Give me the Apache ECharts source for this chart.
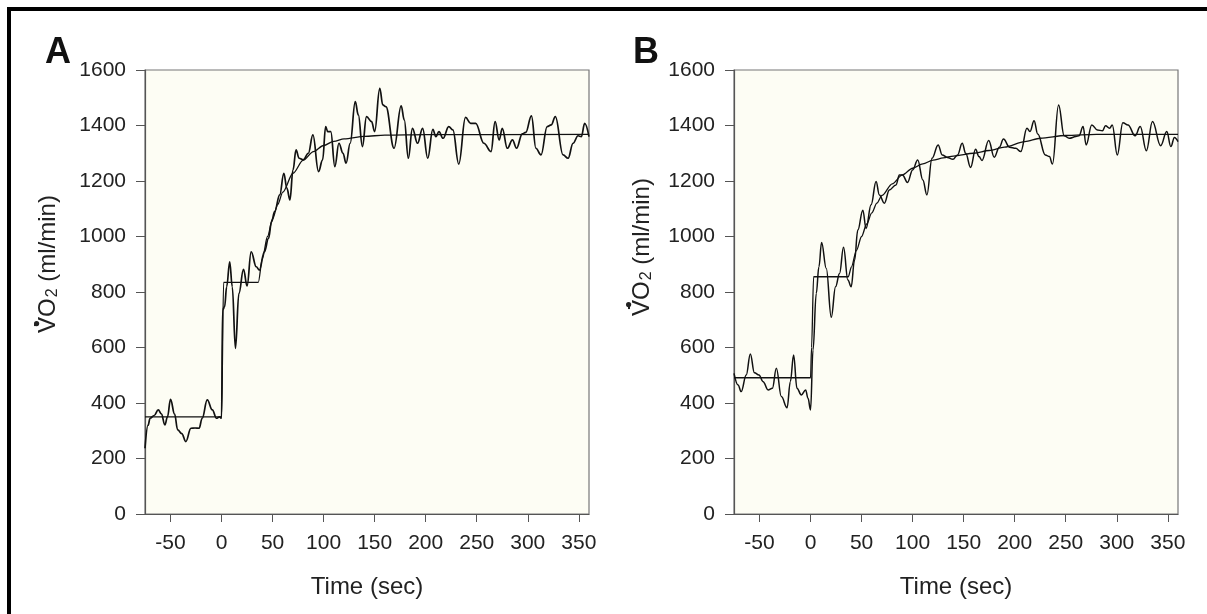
<!DOCTYPE html>
<html>
<head>
<meta charset="utf-8">
<script src="https://cdn.jsdelivr.net/npm/echarts@6/dist/echarts.min.js"></script>
<style>
  html, body { margin: 0; padding: 0; background: #fff; }
  #chart { width: 1207px; height: 614px; }
  #frame { position: absolute; left: 7px; top: 7px; width: 1210px; height: 620px;
           border-left: 4px solid #000; border-top: 4px solid #000; pointer-events: none; }
</style>
</head>
<body>
<div id="chart"></div>
<div id="frame"></div>
<script>
// Tick labels
const xTicks = [-50, 0, 50, 100, 150, 200, 250, 300, 350];

// Panel A: measured VO2 (time sec, ml/min)
const dataA = [[-75,237],[-72,320],[-70,345],[-66,355],[-62,375],[-59,361],[-55.5,321],[-53,350],[-50,413],[-46,360],[-43,303],[-39,290],[-35,261],[-30,309],[-26,310],[-22,309],[-19,345],[-14,411],[-9,375],[-5,345],[-2,350],[0,345],[1,735],[3,747],[5,819],[8,909],[10.5,819],[13.6,597],[17,795],[21.5,882],[25,822],[29,945],[34,891],[37,879],[42,945],[46,993],[49,1053],[52,1090],[57,1150],[61,1228],[64,1174],[67,1132],[70,1240],[73,1312],[76,1282],[80,1276],[85,1300],[89.5,1366],[95,1234],[99,1276],[102,1396],[104,1378],[107,1378],[111,1252],[115,1336],[119,1300],[122,1264],[126,1336],[131,1486],[134,1438],[138,1324],[142,1432],[147,1414],[150,1378],[155,1534],[158,1474],[161,1468],[169,1318],[176,1471],[179,1420],[183,1282],[187,1390],[192,1336],[197,1390],[202,1282],[207,1386],[210,1360],[213,1378],[217,1354],[222.6,1396],[226.6,1384],[232.4,1261],[239,1429],[244,1408],[249,1408],[257,1336],[264,1306],[268,1414],[272,1348],[275,1390],[280,1318],[285,1348],[289,1318],[294.6,1370],[298,1375],[303.6,1435],[308,1318],[313,1294],[319,1396],[323,1402],[327,1432],[334.6,1294],[339.5,1282],[344.4,1336],[349.3,1363],[352.5,1360],[355.8,1408],[360,1360]];

// Panel A: model fit
const fitA = [[-75,350],[0,350],[2,835],[36,835],[40,920],[45,1000],[50,1063],[55,1115],[60,1160],[70,1228],[80,1275],[90,1306],[100,1328],[110,1343],[120,1352],[140,1361],[160,1365],[200,1367],[360,1368]];

// Panel B: measured VO2
const dataB = [[-75,507],[-71,465],[-68,441],[-63,501],[-59,577],[-55,509],[-50.5,501],[-46.5,477],[-41.6,447],[-37.4,453],[-33.5,525],[-28.6,423],[-23,383],[-19.8,477],[-16.6,573],[-13.3,453],[-9,429],[-4.8,447],[-2.5,417],[0,375],[2.4,591],[5.6,795],[8.2,891],[10.8,978],[15.4,885],[20.3,709],[24.5,819],[28.4,867],[32.3,961],[36.6,843],[39.8,819],[43.1,915],[46.3,1023],[51.2,1095],[54.4,1029],[59.3,1114],[64.2,1198],[67.4,1150],[72.3,1120],[77.2,1168],[83.7,1186],[87,1222],[90,1222],[95,1195],[100,1240],[105,1276],[110,1204],[114,1150],[119,1282],[125,1330],[129,1294],[134,1285],[139.5,1278],[144,1294],[148.6,1336],[152,1300],[156.8,1249],[161.7,1314],[165,1288],[168,1274],[174.5,1346],[180,1286],[185,1322],[189,1351],[195,1322],[201,1318],[206,1306],[212,1390],[215,1378],[219,1417],[222.6,1369],[230,1294],[234,1288],[237,1261],[243,1474],[248.5,1363],[253.4,1354],[260,1360],[263,1363],[267,1396],[270,1330],[275.5,1402],[281,1384],[286,1381],[289,1399],[293,1390],[295.6,1402],[300.5,1294],[306,1410],[311,1402],[318,1363],[323,1396],[329,1309],[335,1414],[343,1327],[349,1378],[353,1324],[356.5,1357],[360,1342]];

// Panel B: model fit
const fitB = [[-75,491],[0,491],[1,600],[3,855],[37,855],[40,890],[45,950],[50,1000],[55,1045],[60,1085],[65,1120],[70,1148],[80,1190],[90,1222],[100,1246],[110,1262],[120,1275],[130,1283],[140,1290],[160,1300],[175,1310],[190,1322],[210,1342],[225,1354],[250,1364],[280,1368],[360,1368]];

const FONT = 'Liberation Sans, Arial, Helvetica, sans-serif';
const axisColor = '#555';
const labelColor = '#222';

function xAxisCfg(gi) {
  return {
    type: 'value', gridIndex: gi, min: -75, max: 360,
    name: 'Time (sec)', nameLocation: 'middle', nameGap: 61,
    nameTextStyle: { fontFamily: FONT, fontSize: 24, color: labelColor },
    splitLine: { show: false },
    axisLine: { show: true, onZero: false, lineStyle: { color: axisColor, width: 1.2 } },
    axisTick: { show: true, inside: false, length: 8, customValues: xTicks, lineStyle: { color: axisColor } },
    axisLabel: { customValues: xTicks, margin: 19, fontFamily: FONT, fontSize: 21, color: labelColor }
  };
}
function yAxisCfg(gi, gap, shift) {
  return {
    type: 'value', gridIndex: gi, min: 0, max: 1600, interval: 200,
    name: '{v|V\u0307O}{s|2}{v| (ml/min)}', nameLocation: 'middle', nameGap: gap, nameRotate: 90,
    nameTextStyle: {
      padding: [0, 0, 0, shift],
      rich: {
        v: { fontFamily: FONT, fontSize: 24, color: labelColor },
        s: { fontFamily: FONT, fontSize: 16, color: labelColor, verticalAlign: 'bottom', padding: [10, 0, 0, 1] }
      }
    },
    splitLine: { show: false },
    axisLine: { show: true, onZero: false, lineStyle: { color: axisColor, width: 1.2 } },
    axisTick: { show: true, inside: false, length: 9, lineStyle: { color: axisColor } },
    axisLabel: { margin: 19, fontFamily: FONT, fontSize: 21, color: labelColor, formatter: function (v) { return String(v); } }
  };
}
function lineSeries(data, xi, w, smooth) {
  return {
    type: 'line', xAxisIndex: xi, yAxisIndex: xi, data: data,
    showSymbol: false, symbol: 'none', smooth: smooth, smoothMonotone: 'x',
    lineStyle: { color: '#111', width: w }, silent: true, animation: false
  };
}

const chart = echarts.init(document.getElementById('chart'), null, { renderer: 'canvas' });
chart.setOption({
  animation: false,
  backgroundColor: '#ffffff',
  title: [
    { text: 'A', left: 40, top: 30, textStyle: { fontFamily: FONT, fontSize: 36, fontWeight: 'bold', color: '#111' } },
    { text: 'B', left: 628, top: 30, textStyle: { fontFamily: FONT, fontSize: 36, fontWeight: 'bold', color: '#111' } }
  ],
  // emphasise the "dot" of V-dot (rate notation) so it reads as bold as in the original
  graphic: [
    { type: 'circle', left: 34, top: 321, shape: { r: 2.6 }, style: { fill: '#222' }, silent: true },
    { type: 'circle', left: 626, top: 302, shape: { r: 2.6 }, style: { fill: '#222' }, silent: true }
  ],
  grid: [
    { left: 145, top: 70, width: 444, height: 444, show: true, backgroundColor: '#fdfdf4', borderColor: '#777', borderWidth: 1.2 },
    { left: 734, top: 70, width: 444, height: 444, show: true, backgroundColor: '#fdfdf4', borderColor: '#777', borderWidth: 1.2 }
  ],
  xAxis: [xAxisCfg(0), xAxisCfg(1)],
  yAxis: [yAxisCfg(0, 84, 56), yAxisCfg(1, 79, 90)],
  series: [
    lineSeries(dataA, 0, 1.7, 0.4),
    lineSeries(fitA, 0, 1.3, 0.3),
    lineSeries(dataB, 1, 1.5, 0.4),
    lineSeries(fitB, 1, 1.3, 0.3)
  ]
});
</script>
</body>
</html>
